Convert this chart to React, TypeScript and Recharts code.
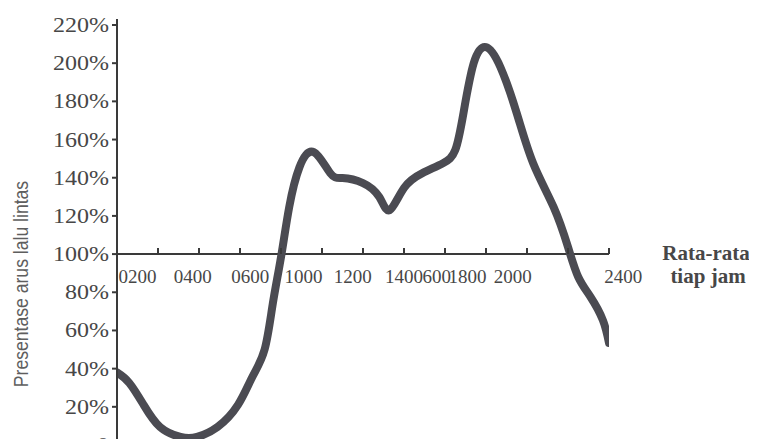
import React from 'react';
import { LineChart, Line, XAxis, YAxis, ReferenceLine, ReferenceDot } from 'recharts';

// traffic flow share per hour of day
const hours = [0, 0.6, 1.3, 2.1, 3.1, 3.9, 4.9, 5.9, 6.6, 7.2, 7.6, 8.0, 8.4, 8.9, 9.6, 10.4, 11.0, 12.0, 12.8, 13.3, 14.0, 14.9, 15.9, 16.5, 16.9, 17.4, 18.0, 18.7, 19.5, 20.3, 21.3, 22.0, 22.5, 23.1, 23.7, 24.0];
const flowPercent = [38, 32.5, 21, 9.4, 4.2, 4.2, 9.4, 21, 35.6, 50, 74, 98.4, 124.6, 145.5, 153.4, 142.4, 139.8, 137.2, 129.8, 123, 134.6, 142.4, 147.6, 154.5, 173.8, 200, 208.4, 198, 173.8, 147.6, 124.6, 103.7, 88, 77.5, 65.4, 53.4];

const yTicks = [0, 20, 40, 60, 80, 100, 120, 140, 160, 180, 200, 220];
const xTickHours = [2, 4, 6, 8, 10, 12, 14, 16, 18, 20, 22, 24];
const xLabels = ['0200', '0400', '0600', '1000', '1200', '1400', '600', '1800', '2000', '2400'];
const xLabelHours = [1.0, 3.7, 6.5, 9.1, 11.5, 14.0, 15.6, 17.1, 19.3, 24.7];

const data = hours.map((h, i) => ({ hour: h, value: flowPercent[i] }));

const INK = '#3a3a3a';
const TEXT = '#474747';
const SERIF = '"Liberation Serif", "DejaVu Serif", serif';

const HourLabel = (text: string) => (props: any) => {
    const vb = props.viewBox || props;
    const cx = vb.x + (vb.width || 0) / 2;
    const cy = vb.y + (vb.height || 0) / 2;
    return (
        <text x={cx} y={cy + 29} textAnchor="middle" fill={TEXT} fontSize={19} fontFamily={SERIF}>
            {text}
        </text>
    );
};

// y labels in the scan are printed a bit wide
const PercentTick = (props: any) => {
    const { x, y, payload } = props;
    const v = payload.value;
    return (
        <text
            transform={`translate(${x},${y}) scale(1.2,1)`}
            textAnchor="end"
            dy="0.35em"
            fill={TEXT}
            fontSize={20}
            fontFamily={SERIF}
        >
            {v === 0 ? '0' : `${v}%`}
        </text>
    );
};

// small upward mark drawn at a data point
const UpTick = (props: any) => (
    <line x1={props.cx} x2={props.cx} y1={props.cy} y2={props.cy - 6} stroke={INK} strokeWidth={2} />
);

const App = () => {
    return (
        <div style={{ position: 'relative', width: 749, height: 431, overflow: 'hidden' }}>
            <LineChart width={749} height={460} data={data} margin={{ top: 17, right: 148, bottom: 23, left: 0 }}>
                <XAxis type="number" dataKey="hour" domain={[0, 24]} allowDataOverflow hide />
                <YAxis
                    type="number"
                    domain={[0, 220]}
                    ticks={yTicks}
                    width={109}
                    tickSize={5}
                    tickMargin={3}
                    tick={<PercentTick />}
                    axisLine={{ stroke: INK, strokeWidth: 2 }}
                    tickLine={{ stroke: INK, strokeWidth: 2 }}
                    interval={0}
                />
                <ReferenceLine y={100} stroke={INK} strokeWidth={2} ifOverflow="visible" />
                <ReferenceDot x={0} y={220} r={0} ifOverflow="visible" shape={UpTick} />
                {xTickHours.map((h) => (
                    <ReferenceDot key={`t${h}`} x={h} y={100} r={0} ifOverflow="visible" shape={UpTick} />
                ))}
                {xLabels.map((lab, i) => (
                    <ReferenceDot
                        key={lab}
                        x={xLabelHours[i]}
                        y={100}
                        r={0}
                        fill="none"
                        stroke="none"
                        ifOverflow="visible"
                        label={HourLabel(lab)}
                    />
                ))}
                <Line
                    type="natural"
                    dataKey="value"
                    stroke="#4b4b52"
                    strokeWidth={8}
                    strokeLinecap="round"
                    strokeLinejoin="round"
                    dot={false}
                    isAnimationActive={false}
                />
            </LineChart>
            <svg width={749} height={431} style={{ position: 'absolute', left: 0, top: 0, pointerEvents: 'none' }}>
                <text
                    transform="translate(20,276) rotate(-90) scale(0.88,1)"
                    textAnchor="middle"
                    fill="#5e5e5e"
                    fontSize={20}
                    fontFamily='"Liberation Sans", Arial, sans-serif'
                >
                    Presentase arus lalu lintas
                </text>
                <text x={698} y={252} textAnchor="middle" fill={TEXT} fontSize={21} fontWeight="bold" fontFamily={SERIF}>
                    Rata-rata
                </text>
                <text x={700} y={275} textAnchor="middle" fill={TEXT} fontSize={21} fontWeight="bold" fontFamily={SERIF}>
                    tiap jam
                </text>
            </svg>
        </div>
    );
};

export default App;
